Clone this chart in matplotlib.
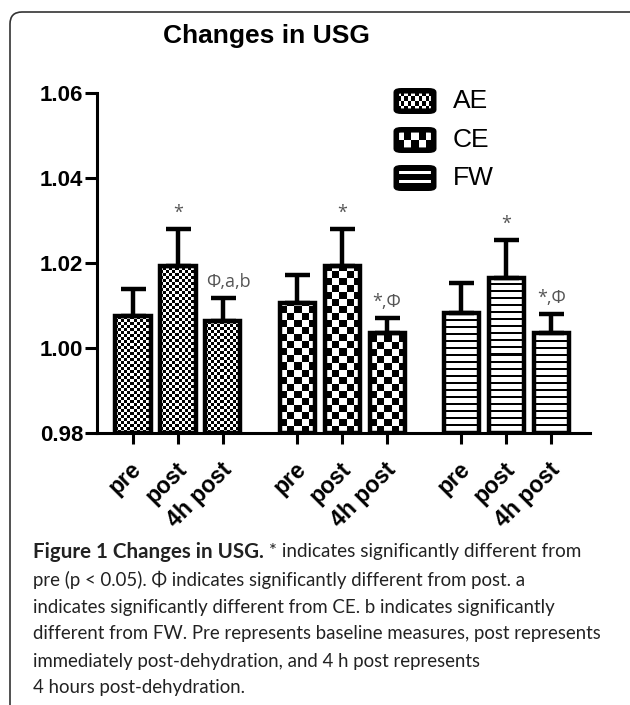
import numpy as np
import matplotlib
matplotlib.use("Agg")
import matplotlib.pyplot as plt
from matplotlib.patches import FancyBboxPatch
from matplotlib.transforms import IdentityTransform, ScaledTranslation

# values
groups = ["AE", "CE", "FW"]
timepoints = ["pre", "post", "4h post"]
ae_mean = [1.0075, 1.0193, 1.0064]
ae_err = [0.0064, 0.0087, 0.0054]
ce_mean = [1.0106, 1.0193, 1.0035]
ce_err = [0.0066, 0.0087, 0.0035]
fw_mean = [1.0082, 1.0165, 1.0035]
fw_err = [0.0071, 0.0089, 0.0045]
ae_marks = ["", "*", "Φ,a,b"]
ce_marks = ["", "*", "*,Φ"]
fw_marks = ["", "*", "*,Φ"]
yticks = [0.98, 1.00, 1.02, 1.04, 1.06]

caption_lines = [
    "pre (p < 0.05). Φ indicates significantly different from post. a",
    "indicates significantly different from CE. b indicates significantly",
    "different from FW. Pre represents baseline measures, post represents",
    "immediately post-dehydration, and 4 h post represents",
    "4 hours post-dehydration.",
]

SANS = "Liberation Sans"
CAP = "Lato"
W, H = 630, 705

means = [ae_mean, ce_mean, fw_mean]
errs = [ae_err, ce_err, fw_err]
marks = [ae_marks, ce_marks, fw_marks]
kinds = ["fine", "coarse", "stripes"]


def pattern(kind, nx, ny):
    yy, xx = np.mgrid[0:ny, 0:nx]
    if kind == "fine":
        return ((xx // 3 + yy // 3) % 2).astype(float)
    if kind == "coarse":
        return ((xx // 7 + yy // 7) % 2).astype(float)
    return ((yy % 7) < 2).astype(float)


fig = plt.figure(figsize=(W / 100, H / 100), dpi=100)
ax = fig.add_axes([97 / W, 1 - 433 / H, (590 - 97) / W, (433 - 93) / H])

group_gap = 3.65
width = 0.78
xlim = (-0.8, 10.16)
ylim = (0.98, 1.06)
ax.set_xlim(*xlim)
ax.set_ylim(*ylim)

px_x = (590 - 97) / (xlim[1] - xlim[0])
px_y = (433 - 93) / (ylim[1] - ylim[0])

xs_all = []
for g in range(3):
    xs = np.arange(3) + g * group_gap
    xs_all.extend(xs)
    for x, m in zip(xs, means[g]):
        nx = max(int(round(width * px_x)), 1)
        ny = max(int(round((m - ylim[0]) * px_y)), 1)
        ax.imshow(pattern(kinds[g], nx, ny), cmap="gray_r", vmin=0, vmax=1,
                  extent=(x - width / 2, x + width / 2, ylim[0], m),
                  aspect="auto", interpolation="nearest", origin="lower", zorder=1)
    ax.bar(xs, np.array(means[g]) - ylim[0], bottom=ylim[0], width=width,
           facecolor="none", edgecolor="black", linewidth=3.2, zorder=2)
    ax.errorbar(xs, means[g], yerr=[np.zeros(3), errs[g]], fmt="none",
                ecolor="black", elinewidth=3.2, capsize=9, capthick=3.2, zorder=3)
    for x, m, e, t in zip(xs, means[g], errs[g], marks[g]):
        if t:
            dx = 0.12 if t.startswith("Φ") else 0.0
            ax.annotate(t, (x + dx, m + e), xytext=(0, 5), textcoords="offset points",
                        ha="center", va="bottom", fontsize=13, family="Open Sans",
                        color="#555555")

ax.set_xlim(*xlim)
ax.set_ylim(*ylim)

# x tick labels placed by hand so the 45 degree text sits like the reference
ax.set_xticks(xs_all)
ax.set_xticklabels([])
lab_tr = ax.get_xaxis_transform() + ScaledTranslation(5 / 100, -33 / 100, fig.dpi_scale_trans)
for x, lab in zip(xs_all, timepoints * 3):
    ax.text(x, 0, lab, transform=lab_tr, rotation=45, rotation_mode="anchor",
            ha="right", va="center", fontsize=16.5, family=SANS, weight="bold",
            clip_on=False)

ax.set_yticks(yticks)
ax.set_yticklabels([f"{v:.2f}" for v in yticks], fontsize=16, family=SANS, weight="bold")

for s in ["top", "right"]:
    ax.spines[s].set_visible(False)
for s in ["left", "bottom"]:
    ax.spines[s].set_linewidth(2.2)
ax.tick_params(axis="x", length=8, width=2.2, direction="out", pad=2)
ax.tick_params(axis="y", length=9, width=2.2, direction="out", pad=1)

# legend drawn by hand
leg_y = [101, 140, 178]
for name, kind, yc in zip(groups, kinds, leg_y):
    sw = fig.add_axes([397 / W, 1 - (yc + 10) / H, 36 / W, 20 / H])
    sw.set_axis_off()
    if kind == "fine":
        arr = pattern("fine", 30, 12)
    elif kind == "coarse":
        arr = pattern("coarse", 35, 14)
    else:
        arr = np.ones((14, 35))
        arr[[3, 4, 9, 10], :] = 0
    sw.imshow(arr, cmap="gray_r", vmin=0, vmax=1, aspect="auto",
              interpolation="nearest", extent=(0, 1, 0, 1))
    sw.set_xlim(0, 1)
    sw.set_ylim(0, 1)
    sw.add_patch(FancyBboxPatch((0, 0), 1, 1, boxstyle="round,pad=0.02,rounding_size=0.15",
                                facecolor="none", edgecolor="black", linewidth=4,
                                clip_on=False, mutation_aspect=0.55))
    fig.text(453, H - yc, name, transform=IdentityTransform(), fontsize=19,
             family=SANS, va="center", ha="left")

fig.text(266, H - 43, "Changes in USG", transform=IdentityTransform(),
         fontsize=19, family=SANS, weight="bold", ha="center", va="baseline")

# frame around the figure
fig.patches.append(FancyBboxPatch((10, -30), 640, H - 12 + 30,
                                  boxstyle="round,pad=0,rounding_size=12",
                                  transform=IdentityTransform(), facecolor="none",
                                  edgecolor="#333333", linewidth=1.2, figure=fig))

# caption
cap_y = [552, 580, 607, 633, 661, 687]
cap_size = 13.4
renderer = fig.canvas.get_renderer()
t0 = fig.text(33, H - cap_y[0], "Figure 1 Changes in USG.", transform=IdentityTransform(),
              fontsize=14.8, family=CAP, weight="bold", va="center", ha="left",
              color="#222222")
bb = t0.get_window_extent(renderer)
fig.text(bb.x1, H - cap_y[0], " * indicates significantly different from",
         transform=IdentityTransform(), fontsize=cap_size + 0.2, family=CAP, va="center",
         ha="left", color="#222222")
for line, yc in zip(caption_lines, cap_y[1:]):
    fig.text(33, H - yc, line, transform=IdentityTransform(), fontsize=cap_size,
             family=CAP, va="center", ha="left", color="#222222")

fig.savefig("out.png", dpi=100)
